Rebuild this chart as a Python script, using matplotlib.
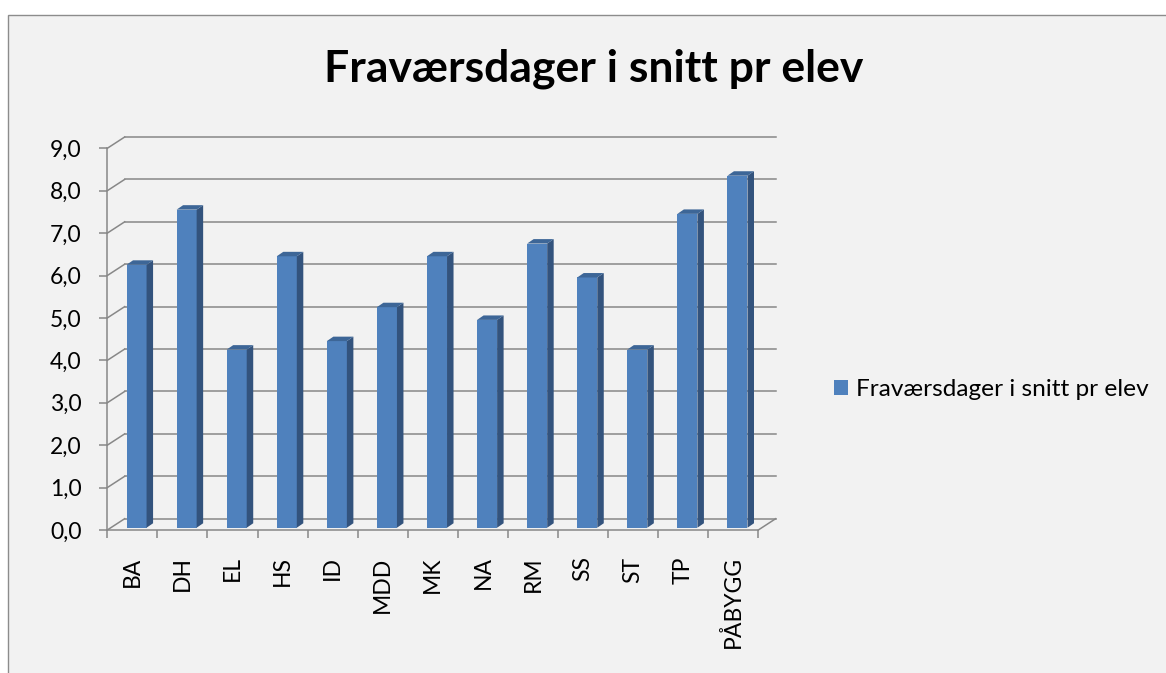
import matplotlib
matplotlib.use('Agg')
import matplotlib.pyplot as plt
from matplotlib.patches import Polygon, Rectangle
from matplotlib.lines import Line2D
import numpy as np

# ---- data ----
categories = ['BA', 'DH', 'EL', 'HS', 'ID', 'MDD', 'MK', 'NA', 'RM', 'SS', 'ST', 'TP', 'PÅBYGG']
values = [6.2, 7.5, 4.2, 6.4, 4.4, 5.2, 6.4, 4.9, 6.7, 5.9, 4.2, 7.4, 8.3]
series_name = 'Fraværsdager i snitt pr elev'
chart_title = 'Fraværsdager i snitt pr elev'
y_ticks = [0, 1, 2, 3, 4, 5, 6, 7, 8, 9]
y_tick_labels = ['0,0', '1,0', '2,0', '3,0', '4,0', '5,0', '6,0', '7,0', '8,0', '9,0']

# ---- style ----
plt.rcParams['font.family'] = ['Lato', 'DejaVu Sans']
W, H = 1166, 673
GRID = '#888888'
LW = 1.1
FRONT = '#4F81BD'
SIDE = '#33537D'
TOP = '#3D6697'
BG = '#F2F2F2'

fig = plt.figure(figsize=(W / 100, H / 100), dpi=100)
fig.patch.set_facecolor('white')
fig.add_artist(Rectangle((8 / W, -0.05), 1.1, (H - 15) / H + 0.05,
                         transform=fig.transFigure, facecolor=BG,
                         edgecolor='#8C8C8C', lw=1.0, zorder=0))

ax = fig.add_axes([107.3 / W, (H - 530) / H, 651 / W, (530 - 148.3) / H])
ax.set_facecolor('none')
n = len(categories)
x = np.arange(n)
ax.set_xlim(-0.5, n - 0.5)
ax.set_ylim(0, 9)

# depth offsets (data units)
DX, DY = 0.347, 0.2665      # back wall
BX, BY = 0.084, 0.054       # bar front face
bdx, bdy = 0.13, 0.105      # bar depth
bw = 0.40

# back wall gridlines + left-wall connectors
for v in y_ticks:
    ax.add_line(Line2D([-0.5 + DX, n - 0.5 + DX], [v + DY, v + DY], color=GRID, lw=LW,
                       clip_on=False, zorder=1))
    ax.add_line(Line2D([-0.5, -0.5 + DX], [v, v + DY], color=GRID, lw=LW,
                       clip_on=False, zorder=1))
# floor right edge
ax.add_line(Line2D([n - 0.5, n - 0.5 + DX], [0, DY], color=GRID, lw=LW, clip_on=False, zorder=1))

# bars
bars = ax.bar(x + BX, values, width=bw, bottom=BY, color=FRONT, zorder=3,
              label=series_name, clip_on=False)
for xi, v in zip(x, values):
    x0 = xi + BX - bw / 2
    x1 = xi + BX + bw / 2
    top = v + BY
    ax.add_patch(Polygon([(x1, BY), (x1 + bdx, BY + bdy), (x1 + bdx, top + bdy), (x1, top)],
                         closed=True, facecolor=SIDE, edgecolor='none', zorder=3, clip_on=False))
    ax.add_patch(Polygon([(x0, top), (x1, top), (x1 + bdx, top + bdy), (x0 + bdx, top + bdy)],
                         closed=True, facecolor=TOP, edgecolor='none', zorder=3, clip_on=False))

# axes / ticks
for s in ['top', 'right']:
    ax.spines[s].set_visible(False)
for s in ['left', 'bottom']:
    ax.spines[s].set_color(GRID)
    ax.spines[s].set_linewidth(LW)

ax.set_yticks(y_ticks)
ax.set_yticklabels(y_tick_labels)
ax.tick_params(axis='y', length=5.5, width=LW, color=GRID, pad=13, labelsize=16.5,
               labelcolor='black')
ax.set_xticks(x)
ax.set_xticklabels(categories, rotation=90, va='top', ha='center')
ax.set_xticks(np.arange(-0.5, n, 1.0), minor=True)
ax.tick_params(axis='x', which='major', length=0, pad=19, labelsize=16.5, labelcolor='black')
ax.tick_params(axis='x', which='minor', length=5.5, width=LW, color=GRID)

# title
fig.text(594 / W, (H - 81.7) / H, chart_title, ha='center', va='baseline',
         fontsize=32, fontweight='bold', color='black')

# legend
fig.legend(handles=[bars], labels=[series_name], loc='center left',
           bbox_to_anchor=(834 / W, (H - 390) / H), frameon=False, fontsize=17.6,
           handlelength=0.58, handleheight=0.58, handletextpad=0.33,
           borderpad=0, borderaxespad=0)

fig.savefig('out.png', dpi=100, facecolor=fig.get_facecolor())
